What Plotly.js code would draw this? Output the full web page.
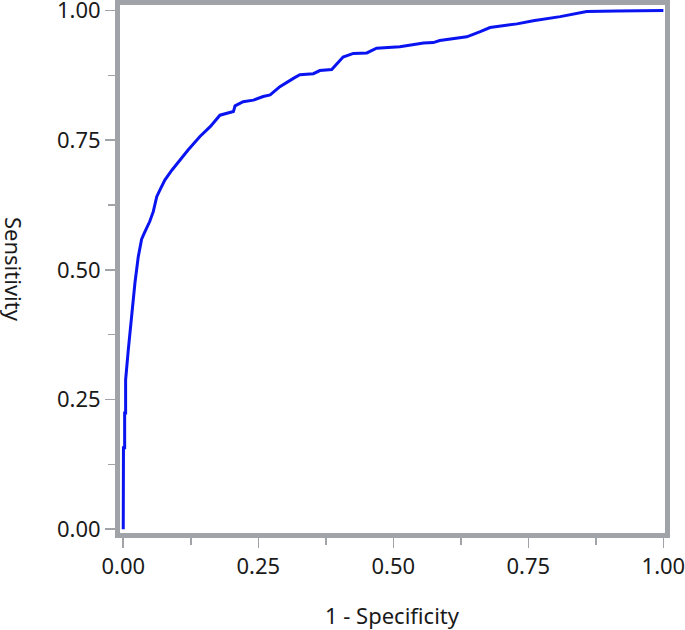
<!DOCTYPE html>
<html>
<head>
<meta charset="utf-8">
<script src="https://cdn.plot.ly/plotly-3.0.1.min.js"></script>
<style>html,body{margin:0;padding:0;background:#fff;}#chart{width:685px;height:630px;}</style>
</head>
<body>
<div id="chart"></div>
<script>
const fpr = [0, 0.0004, 0.0026, 0.0026, 0.0044, 0.0044, 0.0093, 0.0156, 0.0217, 0.0278, 0.034, 0.040, 0.049, 0.0556, 0.062, 0.068, 0.077, 0.090, 0.105, 0.120, 0.142, 0.161, 0.179, 0.204, 0.207, 0.222, 0.241, 0.259, 0.272, 0.290, 0.315, 0.327, 0.352, 0.364, 0.386, 0.407, 0.426, 0.451, 0.469, 0.512, 0.556, 0.574, 0.586, 0.636, 0.661, 0.679, 0.729, 0.759, 0.809, 0.858, 0.914, 1.0];
const tpr = [0, 0.157, 0.157, 0.224, 0.224, 0.288, 0.345, 0.417, 0.475, 0.525, 0.559, 0.573, 0.593, 0.612, 0.641, 0.654, 0.673, 0.692, 0.712, 0.731, 0.757, 0.776, 0.798, 0.805, 0.816, 0.824, 0.827, 0.834, 0.837, 0.853, 0.869, 0.876, 0.878, 0.884, 0.886, 0.910, 0.917, 0.918, 0.927, 0.930, 0.937, 0.938, 0.942, 0.949, 0.959, 0.967, 0.974, 0.980, 0.988, 0.998, 0.999, 1.0];
const tickVals = [0, 0.25, 0.5, 0.75, 1.0];
const tickLabels = ["0.00", "0.25", "0.50", "0.75", "1.00"];
const xTitle = "1 - Specificity";
const yTitle = "Sensitivity";

const frameColor = "#a0a4a8";
const fontFam = "Noto Sans, Open Sans, sans-serif";

const axisCommon = {
  showline: true, linewidth: 5, linecolor: frameColor, mirror: true,
  showgrid: false, zeroline: false,
  ticks: "outside", ticklen: 10, tickwidth: 1.5, tickcolor: frameColor,
  tickmode: "array", tickvals: tickVals, ticktext: tickLabels,
  ticklabeloverflow: "allow",
  minor: {dtick: 0.125, tick0: 0, ticks: "outside", ticklen: 7, tickwidth: 1.5, tickcolor: frameColor, showgrid: false},
  tickfont: {family: fontFam, size: 22, color: "#1a1a1a"},
  fixedrange: true
};

const data = [{
  x: fpr, y: tpr, type: "scatter", mode: "lines",
  line: {color: "#0a14f0", width: 3},
  hoverinfo: "skip", cliponaxis: false
}];

const layout = {
  width: 685, height: 630,
  margin: {l: 120, r: 20, t: 5, b: 97},
  paper_bgcolor: "#fff", plot_bgcolor: "#fff",
  showlegend: false,
  xaxis: Object.assign({}, axisCommon, {range: [-0.006, 1.003]}),
  yaxis: Object.assign({}, axisCommon, {range: [-0.0073, 1.0104]}),
  annotations: [
    {text: xTitle, xref: "paper", yref: "paper", x: 0.5, y: 0, xanchor: "center", yanchor: "middle", yshift: -82, showarrow: false, font: {family: fontFam, size: 22, color: "#1a1a1a"}},
    {text: yTitle, xref: "paper", yref: "paper", x: 0, y: 0.5, xanchor: "center", yanchor: "middle", xshift: -106, textangle: 90, showarrow: false, font: {family: fontFam, size: 22, color: "#1a1a1a"}}
  ]
};

Plotly.newPlot("chart", data, layout, {displayModeBar: false, staticPlot: true});
</script>
</body>
</html>
